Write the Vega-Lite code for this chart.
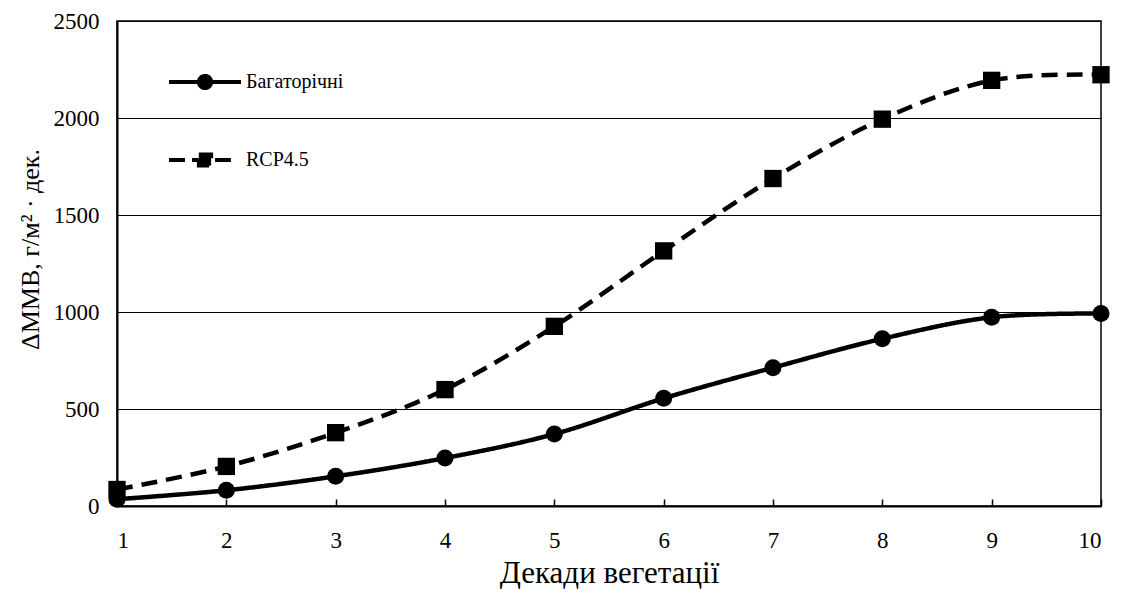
{
  "$schema": "https://vega.github.io/schema/vega-lite/v6.json",
  "width": 984,
  "height": 485,
  "autosize": "none",
  "padding": {"left": 117, "top": 21, "right": 23, "bottom": 83},
  "background": "white",
  "config": {
    "view": {"stroke": "black", "strokeWidth": 1.5},
    "font": "Liberation Serif",
    "axis": {"labelFont": "Liberation Serif", "titleFont": "Liberation Serif"},
    "legend": {"labelFont": "Liberation Serif"}
  },
  "data": {
    "values": [
      {"decade": 1, "series": "Багаторічні", "value": 35},
      {"decade": 2, "series": "Багаторічні", "value": 81},
      {"decade": 3, "series": "Багаторічні", "value": 153},
      {"decade": 4, "series": "Багаторічні", "value": 247},
      {"decade": 5, "series": "Багаторічні", "value": 371},
      {"decade": 6, "series": "Багаторічні", "value": 555},
      {"decade": 7, "series": "Багаторічні", "value": 713},
      {"decade": 8, "series": "Багаторічні", "value": 862},
      {"decade": 9, "series": "Багаторічні", "value": 973},
      {"decade": 10, "series": "Багаторічні", "value": 992},
      {"decade": 1, "series": "RCP4.5", "value": 85},
      {"decade": 2, "series": "RCP4.5", "value": 204},
      {"decade": 3, "series": "RCP4.5", "value": 378},
      {"decade": 4, "series": "RCP4.5", "value": 600},
      {"decade": 5, "series": "RCP4.5", "value": 926},
      {"decade": 6, "series": "RCP4.5", "value": 1315},
      {"decade": 7, "series": "RCP4.5", "value": 1688},
      {"decade": 8, "series": "RCP4.5", "value": 1994},
      {"decade": 9, "series": "RCP4.5", "value": 2194},
      {"decade": 10, "series": "RCP4.5", "value": 2223}
    ]
  },
  "encoding": {
    "x": {
      "field": "decade",
      "type": "quantitative",
      "scale": {"domain": [1, 10], "nice": false, "zero": false},
      "axis": {
        "values": [1, 2, 3, 4, 5, 6, 7, 8, 9, 10],
        "format": "d",
        "grid": false,
        "tickSize": -7,
        "tickColor": "black",
        "tickWidth": 1.5,
        "domainColor": "black",
        "domainWidth": 2,
        "labelFontSize": 23,
        "labelColor": "black",
        "labelPadding": 30,
        "title": "Декади вегетації",
        "titleFontSize": 31,
        "titleFontWeight": "normal",
        "titleColor": "black",
        "titlePadding": 6
      }
    },
    "y": {
      "field": "value",
      "type": "quantitative",
      "scale": {"domain": [0, 2500], "nice": false},
      "axis": {
        "values": [0, 500, 1000, 1500, 2000, 2500],
        "format": "d",
        "ticks": false,
        "grid": true,
        "gridColor": "black",
        "gridWidth": 1.2,
        "gridOpacity": 1,
        "domainColor": "black",
        "domainWidth": 2,
        "labelFontSize": 23,
        "labelColor": "black",
        "labelPadding": 18,
        "title": "ΔMMB, г/м² · дек.",
        "titleFontSize": 26,
        "titleFontWeight": "normal",
        "titleColor": "black",
        "titlePadding": 10,
        "titleY": 228
      }
    }
  },
  "layer": [
    {
      "mark": {"type": "line", "interpolate": "cardinal", "tension": 0, "strokeWidth": 4.5, "color": "black"},
      "encoding": {
        "strokeDash": {
          "field": "series",
          "type": "nominal",
          "scale": {"domain": ["Багаторічні", "RCP4.5"], "range": [[1, 0], [16, 9]]},
          "legend": {
            "orient": "none",
            "legendX": 50,
            "legendY": 23,
            "title": null,
            "symbolSize": 5184,
            "symbolStrokeWidth": 4,
            "symbolStrokeColor": "black",
            "symbolFillColor": "black",
            "labelFontSize": 20,
            "labelColor": "black",
            "labelOffset": 3,
            "rowPadding": 25,
            "encode": {
              "symbols": {
                "update": {
                  "shape": {"signal": "datum.value === 'RCP4.5' ? 'M-1,0H-0.52M-0.36,0H-0.17M0.28,0H0.72M-0.17,-0.15H0.17V0.15H-0.17Z' : 'M-1,0H1M0.17,0A0.17,0.17 0 1,1 -0.17,0A0.17,0.17 0 1,1 0.17,0Z'"},
                  "strokeDash": {"value": []},
                  "fill": {"value": "black"},
                  "stroke": {"value": "black"},
                  "opacity": {"value": 1}
                }
              }
            }
          }
        }
      }
    },
    {
      "transform": [{"filter": "datum.series === 'Багаторічні'"}],
      "mark": {"type": "point", "shape": "circle", "filled": true, "color": "black", "opacity": 1, "size": 290}
    },
    {
      "transform": [{"filter": "datum.series === 'RCP4.5'"}],
      "mark": {"type": "point", "shape": "square", "filled": true, "color": "black", "opacity": 1, "size": 300}
    }
  ]
}
